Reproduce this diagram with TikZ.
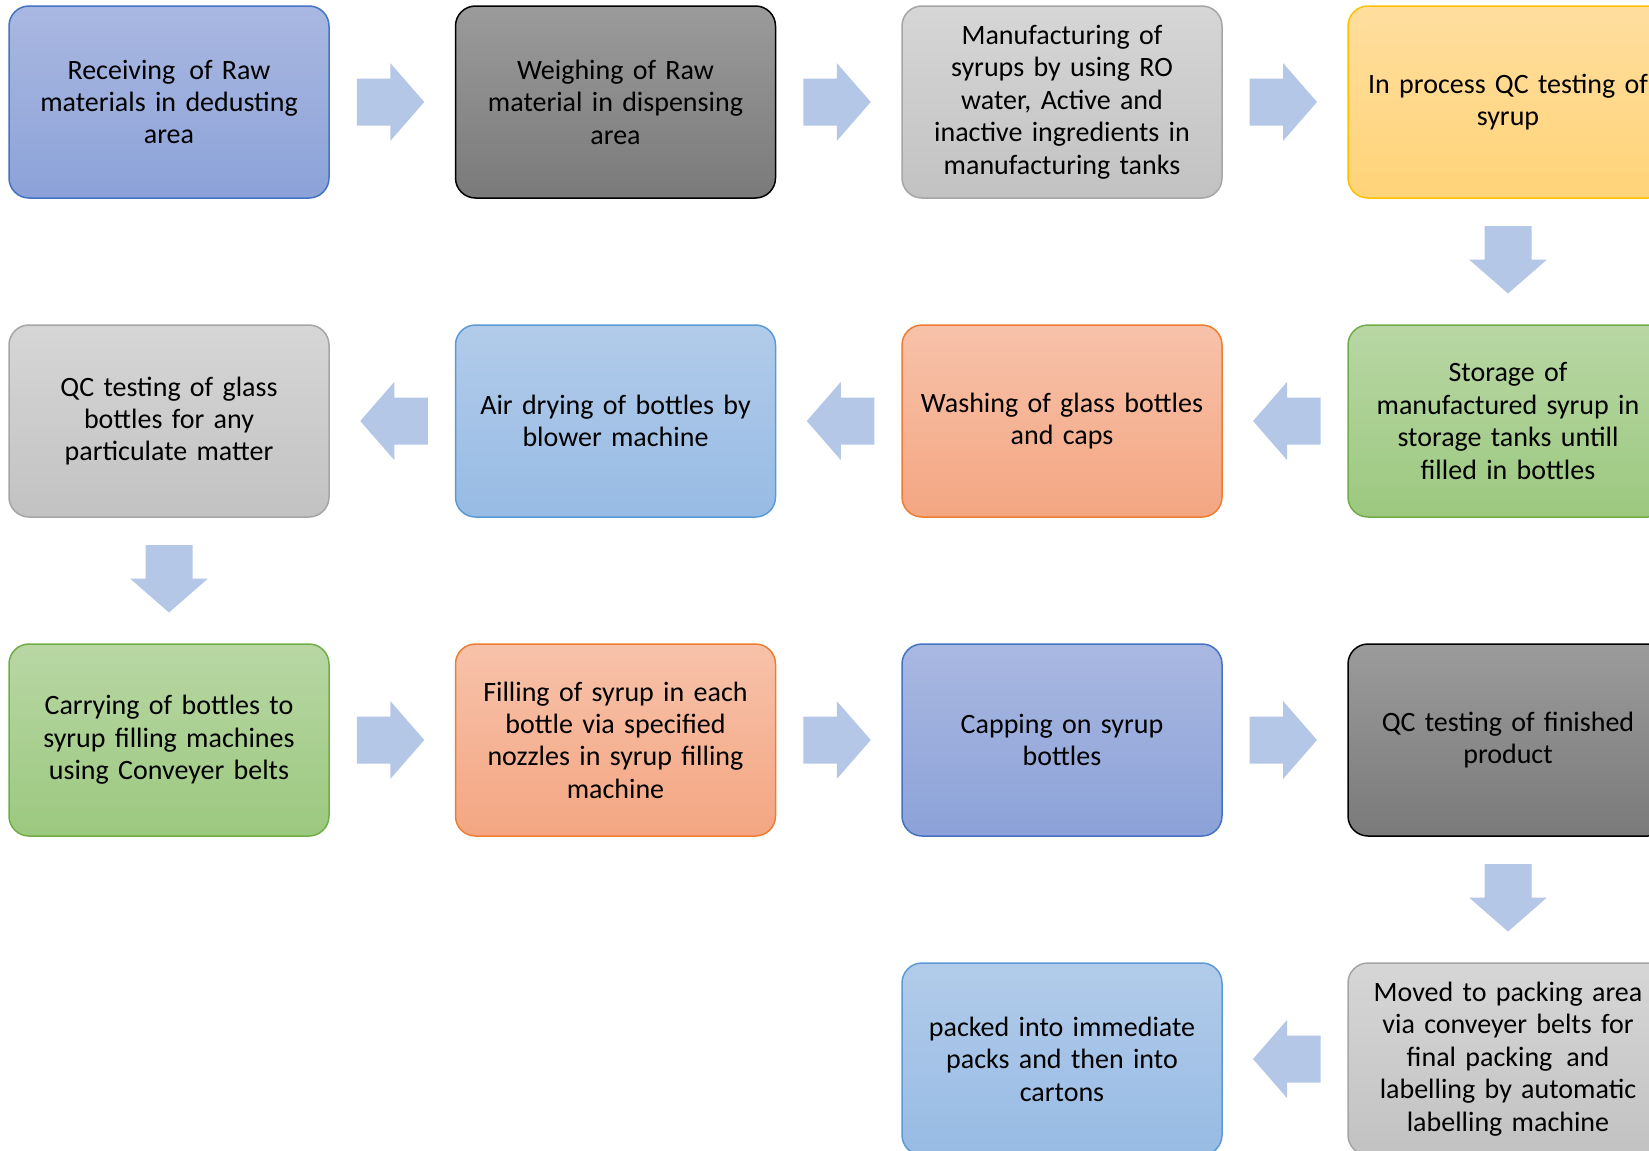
\documentclass[tikz,border=0pt]{standalone}
\usepackage{fontspec}
\setmainfont{Carlito}
\usetikzlibrary{calc}

% theme colours
\definecolor{arrowfill}{RGB}{180,199,231}
\definecolor{blueline}{RGB}{68,114,196}
\definecolor{bluetop}{RGB}{169,184,225}
\definecolor{bluebot}{RGB}{140,162,216}
\definecolor{darktop}{RGB}{155,155,155}
\definecolor{darkbot}{RGB}{122,122,122}
\definecolor{greyline}{RGB}{165,165,165}
\definecolor{greytop}{RGB}{214,214,214}
\definecolor{greybot}{RGB}{194,194,194}
\definecolor{goldline}{RGB}{255,192,0}
\definecolor{goldtop}{RGB}{255,222,158}
\definecolor{goldbot}{RGB}{255,211,120}
\definecolor{greenline}{RGB}{112,173,71}
\definecolor{greentop}{RGB}{184,215,164}
\definecolor{greenbot}{RGB}{156,200,127}
\definecolor{orangeline}{RGB}{237,125,49}
\definecolor{orangetop}{RGB}{247,194,170}
\definecolor{orangebot}{RGB}{244,166,130}
\definecolor{skyline}{RGB}{91,155,213}
\definecolor{skytop}{RGB}{178,203,234}
\definecolor{skybot}{RGB}{151,187,228}

\tikzset{
  stepbox/.style={rectangle, rounded corners=10pt, minimum width=160pt,
    minimum height=96pt, inner sep=0pt, text width=158pt, align=center,
    font=\fontsize{14}{16.2}\selectfont, line width=0.75pt},
  bluebox/.style={stepbox, draw=blueline, top color=bluetop, bottom color=bluebot},
  darkbox/.style={stepbox, draw=black, top color=darktop, bottom color=darkbot},
  greybox/.style={stepbox, draw=greyline, top color=greytop, bottom color=greybot},
  goldbox/.style={stepbox, draw=goldline, top color=goldtop, bottom color=goldbot},
  greenbox/.style={stepbox, draw=greenline, top color=greentop, bottom color=greenbot},
  orangebox/.style={stepbox, draw=orangeline, top color=orangetop, bottom color=orangebot},
  skybox/.style={stepbox, draw=skyline, top color=skytop, bottom color=skybot},
  flowarrow/.pic={
    \fill[arrowfill] (-35.5,-23.5) -- (-2,-23.5) -- (-2,-39) -- (32,0)
      -- (-2,39) -- (-2,23.5) -- (-35.5,23.5) -- cycle;
  }
}

\begin{document}
\begin{tikzpicture}[x=0.5pt, y=-0.5pt]
  \useasboundingbox (0,0) rectangle (1649,1151);
  \clip (0,0) rectangle (1649,1151);
  \fill[white] (0,0) rectangle (1649,1151);

  % row 1
  \node[bluebox] (n1) at (169,102) {Receiving\hspace{7pt}of Raw\\materials in dedusting\\area};
  \node[darkbox] (n2) at (615.5,102) {Weighing of Raw\\material in dispensing\\area};
  \node[greybox] (n3) at (1062,102) {Manufacturing of\\syrups by using RO\\water, Active and\\inactive ingredients in\\manufacturing tanks};
  \node[goldbox] (n4) at (1508,102) {In process QC testing of\\syrup};

  % row 2
  \node[greenbox] (n5) at (1508,421) {Storage of\\manufactured syrup in\\storage tanks untill\\filled in bottles};
  \node[orangebox] (n6) at (1062,421) {Washing of glass bottles\\and caps};
  \node[skybox] (n7) at (615.5,421) {Air drying of bottles by\\blower machine};
  \node[greybox] (n8) at (169,421) {QC testing of glass\\bottles for any\\particulate matter};

  % row 3
  \node[greenbox] (n9) at (169,740) {Carrying of bottles to\\syrup filling machines\\using Conveyer belts};
  \node[orangebox] (n10) at (615.5,740) {Filling of syrup in each\\bottle via specified\\nozzles in syrup filling\\machine};
  \node[bluebox] (n11) at (1062,740) {Capping on syrup\\bottles};
  \node[darkbox] (n12) at (1508,740) {QC testing of finished\\product};

  % row 4
  \node[greybox] (n13) at (1508,1059) {Moved to packing area\\via conveyer belts for\\final packing\hspace{7pt}and\\labelling by automatic\\labelling machine};
  \node[skybox] (n14) at (1062,1059) {packed into immediate\\packs and then into\\cartons};

  % block arrows between the steps
  \path ($(n1.east)!0.5!(n2.west)$) pic {flowarrow};
  \path ($(n2.east)!0.5!(n3.west)$) pic {flowarrow};
  \path ($(n3.east)!0.5!(n4.west)$) pic {flowarrow};
  \path ($(n4.south)!0.5!(n5.north)$) pic[rotate=-90] {flowarrow};
  \path ($(n5.west)!0.5!(n6.east)$) pic[rotate=180] {flowarrow};
  \path ($(n6.west)!0.5!(n7.east)$) pic[rotate=180] {flowarrow};
  \path ($(n7.west)!0.5!(n8.east)$) pic[rotate=180] {flowarrow};
  \path ($(n8.south)!0.5!(n9.north)$) pic[rotate=-90] {flowarrow};
  \path ($(n9.east)!0.5!(n10.west)$) pic {flowarrow};
  \path ($(n10.east)!0.5!(n11.west)$) pic {flowarrow};
  \path ($(n11.east)!0.5!(n12.west)$) pic {flowarrow};
  \path ($(n12.south)!0.5!(n13.north)$) pic[rotate=-90] {flowarrow};
  \path ($(n13.west)!0.5!(n14.east)$) pic[rotate=180] {flowarrow};
\end{tikzpicture}
\end{document}
